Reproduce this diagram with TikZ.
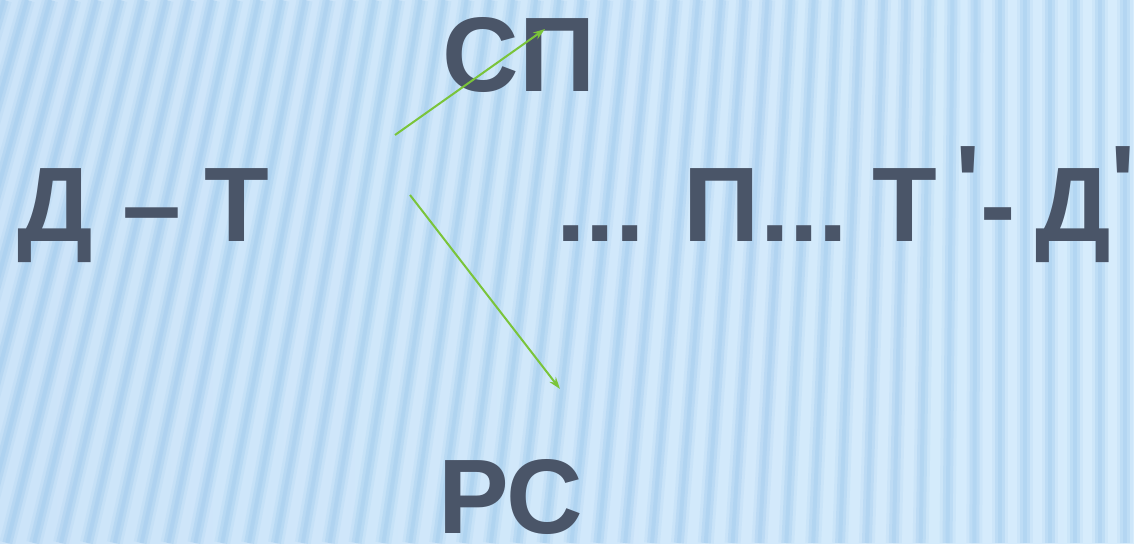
\documentclass[tikz,border=0pt]{standalone}
\usepackage{fontspec}
\setmainfont{Liberation Sans}
\usetikzlibrary{arrows.meta}

\definecolor{slate}{RGB}{74,85,104}
\definecolor{leaf}{RGB}{122,196,58}
\definecolor{sky}{RGB}{214,236,252}
\definecolor{skydeep}{RGB}{204,228,249}
\definecolor{stripe}{RGB}{140,190,232}

\newcommand{\primemark}{\raisebox{22pt}{\textquotesingle}}

\begin{document}
\begin{tikzpicture}[x=1pt, y=-1pt,
    term/.style={inner sep=0pt, text=slate,
                 font=\fontsize{106}{110}\selectfont\bfseries},
    link/.style={-{Stealth[length=12pt, width=8pt]}, draw=leaf, line width=2pt}
]

% Background
\useasboundingbox (0,0) rectangle (1134,543);
\shade[left color=skydeep, right color=sky] (0,0) rectangle (1134,543);
\begin{scope}
  \clip (0,0) rectangle (1134,543);
  \foreach \m in {-100,-75,...,1175} {
    \pgfmathsetmacro{\k}{max(0.27-0.00027*\m,0)*271.5}
    \draw[stripe, line width=16pt, opacity=0.12] (\m-\k,543) -- (\m+\k,0);
    \draw[stripe, line width=10pt, opacity=0.22] (\m-\k,543) -- (\m+\k,0);
    \draw[stripe, line width=4pt, opacity=0.2] (\m-\k,543) -- (\m+\k,0);
  }
\end{scope}

% Define terms
\node[term, anchor=base west] (money) at (17,241) {Д – \kern-6pt Т};
\node[term, anchor=base west] (chain) at (556,241)
  {... П... \kern-15pt Т\kern18pt\primemark-\kern-10pt{} Д\primemark};
\node[term, anchor=base] (means) at (519,92) {СП};
\node[term, anchor=base] (labour) at (511,533) {РС};

% Branch points
\coordinate (forkup) at (395,135);
\coordinate (forkdown) at (410,195);
\coordinate (tipup) at (545,29);
\coordinate (tipdown) at (560,389);

% Relations
\draw[link] (forkup) -- (tipup);
\draw[link] (forkdown) -- (tipdown);

\end{tikzpicture}
\end{document}
